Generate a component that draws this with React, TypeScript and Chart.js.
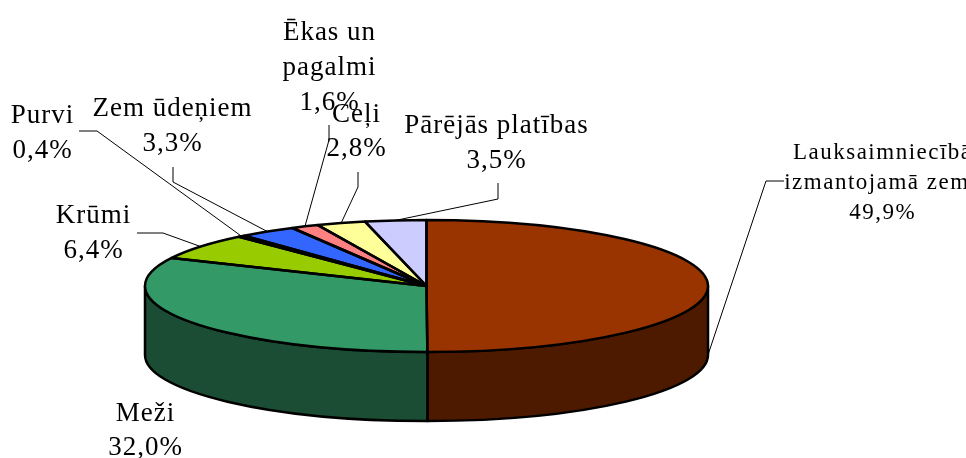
import React, { useEffect, useRef } from "react";
import { Chart, registerables } from "chart.js";

Chart.register(...registerables);

// ---- data ----
const categories = [
  "Lauksaimniecībā izmantojamā zeme",
  "Meži",
  "Krūmi",
  "Purvi",
  "Zem ūdeņiem",
  "Ēkas un pagalmi",
  "Ceļi",
  "Pārējās platības",
];
const shares = [49.9, 32.0, 6.4, 0.4, 3.3, 1.6, 2.8, 3.5];
const labelLines = [
  ["Lauksaimniecībā", "izmantojamā zeme"],
  ["Meži"],
  ["Krūmi"],
  ["Purvi"],
  ["Zem ūdeņiem"],
  ["Ēkas un", "pagalmi"],
  ["Ceļi"],
  ["Pārējās platības"],
];
const sliceColors = [
  "#993300",
  "#339966",
  "#99cc00",
  "#333333",
  "#3366ff",
  "#ff8080",
  "#ffff99",
  "#ccccff",
];

// ---- layout / style (not data) ----
const W = 966;
const H = 458;
const DEPTH = 69;
const OUTLINE = 2.5;
const FONT = '"Liberation Serif", "Times New Roman", serif';
// text centre x, first baseline y, font size, line height, leader polyline (label side -> elbow), drop anchor to base
const labelPlacement = [
  { x: 882, y: 159, size: 23, lh: 30, spacing: 1.5, leader: [[784, 181], [766, 181]], base: true },
  { x: 145, y: 421, size: 27, lh: 34, spacing: 1, leader: null, base: false },
  { x: 93, y: 223, size: 27, lh: 35, spacing: 1, leader: [[137, 233], [163, 233]], base: false },
  { x: 42, y: 123, size: 27, lh: 35, spacing: 1, leader: [[79, 131], [97, 131]], base: false },
  { x: 172, y: 116, size: 27, lh: 35, spacing: 1, leader: [[173, 167], [173, 182]], base: false },
  { x: 329, y: 40, size: 27, lh: 35, spacing: 1, leader: [[329, 125], [329, 140]], base: false },
  { x: 356, y: 122, size: 27, lh: 34, spacing: 1, leader: [[358, 172], [358, 187]], base: false },
  { x: 496, y: 133, size: 27, lh: 35, spacing: 1, leader: [[498, 183], [498, 199]], base: false },
];

function darken(hex: string, f: number): string {
  const n = parseInt(hex.slice(1), 16);
  const r = Math.round(((n >> 16) & 255) * f);
  const g = Math.round(((n >> 8) & 255) * f);
  const b = Math.round((n & 255) * f);
  return `rgb(${r},${g},${b})`;
}

function pctText(v: number): string {
  return v.toFixed(1).replace(".", ",") + "%";
}

function geometry(chart: any) {
  const arcs = chart.getDatasetMeta(0).data as any[];
  const a0 = arcs[0];
  const cx = a0.x;
  const cy = a0.y;
  const ry = a0.outerRadius;
  const rx = (chart.chartArea.right - chart.chartArea.left) / 2;
  return { arcs, cx, cy, rx, ry };
}

const pie3d = {
  id: "pie3d",
  beforeDatasetsDraw(chart: any) {
    const { arcs, cx, cy, rx, ry } = geometry(chart);
    const ctx = chart.ctx as CanvasRenderingContext2D;
    ctx.save();
    ctx.lineWidth = OUTLINE;
    ctx.strokeStyle = "#000";
    ctx.lineJoin = "round";
    arcs.forEach((arc: any, i: number) => {
      const a = Math.max(arc.startAngle, 0);
      const b = Math.min(arc.endAngle, Math.PI);
      if (b <= a) return;
      ctx.beginPath();
      ctx.ellipse(cx, cy, rx, ry, 0, a, b, false);
      ctx.ellipse(cx, cy + DEPTH, rx, ry, 0, b, a, true);
      ctx.closePath();
      ctx.fillStyle = darken(sliceColors[i], 0.5);
      ctx.fill();
      ctx.stroke();
    });
    ctx.restore();
    // stretch the library's circular pie into the tilted top face
    ctx.save();
    ctx.translate(cx, cy);
    ctx.scale(rx / ry, 1);
    ctx.translate(-cx, -cy);
  },
  afterDatasetsDraw(chart: any) {
    const ctx = chart.ctx as CanvasRenderingContext2D;
    ctx.restore();
    const { arcs, cx, cy, rx, ry } = geometry(chart);
    ctx.save();
    ctx.lineWidth = OUTLINE;
    ctx.strokeStyle = "#000";
    ctx.lineJoin = "round";
    arcs.forEach((arc: any) => {
      ctx.beginPath();
      ctx.moveTo(cx, cy);
      ctx.ellipse(cx, cy, rx, ry, 0, arc.startAngle, arc.endAngle, false);
      ctx.closePath();
      ctx.stroke();
    });
    ctx.restore();

    // labels and leader lines
    ctx.save();
    arcs.forEach((arc: any, i: number) => {
      const p = labelPlacement[i];
      if (p.leader) {
        const mid = (arc.startAngle + arc.endAngle) / 2;
        const ex = cx + rx * Math.cos(mid);
        const ey = cy + ry * Math.sin(mid) + (p.base ? DEPTH : 0);
        ctx.beginPath();
        ctx.lineWidth = 1;
        ctx.strokeStyle = "#000";
        ctx.moveTo(p.leader[0][0], p.leader[0][1]);
        ctx.lineTo(p.leader[1][0], p.leader[1][1]);
        ctx.lineTo(ex, ey);
        ctx.stroke();
      }
      const lines = [...labelLines[i], pctText(shares[i])];
      ctx.font = `${p.size}px ${FONT}`;
      (ctx as any).letterSpacing = `${p.spacing}px`;
      ctx.fillStyle = "#000";
      ctx.textAlign = "center";
      ctx.textBaseline = "alphabetic";
      lines.forEach((t, k) => {
        ctx.fillText(t, p.x + p.spacing / 2, p.y + k * p.lh);
      });
    });
    ctx.restore();
  },
};

export default function App() {
  const ref = useRef<HTMLCanvasElement | null>(null);
  useEffect(() => {
    if (!ref.current) return;
    const chart = new Chart(ref.current, {
      type: "pie",
      data: {
        labels: categories,
        datasets: [
          {
            data: shares,
            backgroundColor: sliceColors,
            borderWidth: 0,
            clip: false as any,
          },
        ],
      },
      options: {
        responsive: false,
        animation: false,
        devicePixelRatio: 1,
        events: [],
        layout: { padding: { left: 145, right: 258, top: 220, bottom: 106 } },
        plugins: {
          legend: { display: false },
          tooltip: { enabled: false },
        },
      },
      plugins: [pie3d],
    });
    return () => chart.destroy();
  }, []);
  return (
    <div style={{ position: "absolute", left: 0, top: 0, width: W, height: H, background: "#fff" }}>
      <canvas ref={ref} width={W} height={H} />
    </div>
  );
}
